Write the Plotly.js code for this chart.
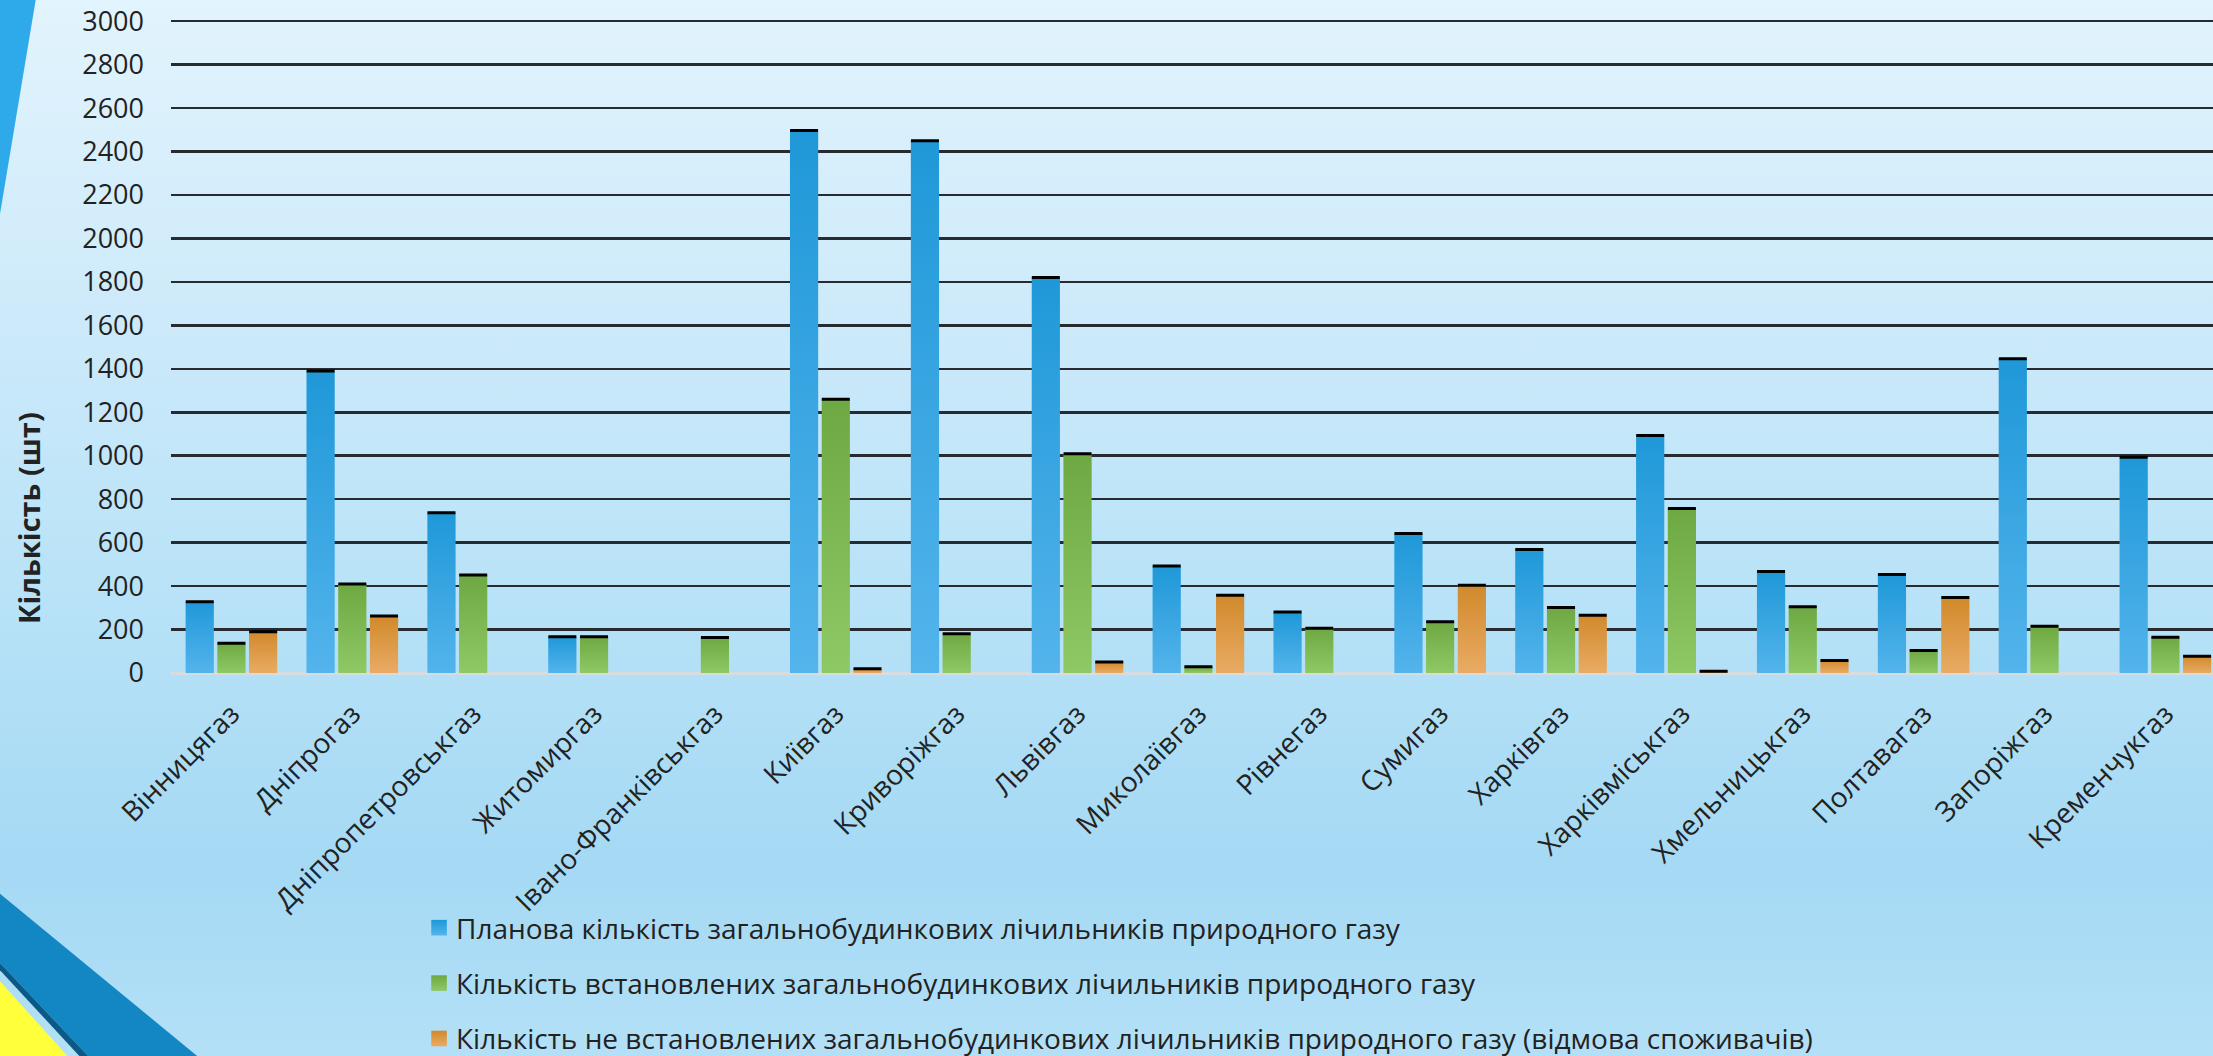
<!DOCTYPE html>
<html>
<head>
<meta charset="utf-8">
<script src="https://cdn.plot.ly/plotly-3.0.1.min.js"></script>
<style>
  html, body { margin: 0; padding: 0; width: 2213px; height: 1056px; overflow: hidden; }
  body { background: linear-gradient(to bottom, #e2f4fd 0%, #cdeafa 30%, #b7e2f7 58%, #a5d9f4 82%, #b3e0f7 100%); }
  #chart { width: 2213px; height: 1056px; }
</style>
</head>
<body>
<div id="chart"></div>
<script>
// ---- data ----
const categories = ['Вінницягаз','Дніпрогаз','Дніпропетровськгаз','Житомиргаз','Івано-Франківськгаз','Київгаз','Криворіжгаз','Львівгаз','Миколаївгаз','Рівнегаз','Сумигаз','Харківгаз','Харківміськгаз','Хмельницькгаз','Полтавагаз','Запоріжгаз','Кременчукгаз'];
const planned   = [328, 1390, 737, 167, null, 2497, 2450, 1820, 493, 281, 642, 568, 1093, 467, 453, 1446, 993];
const installed = [137, 410, 451, 167, 163, 1260, 181, 1009, 29, 206, 236, 302, 757, 305, 104, 215, 164];
const notInstalled = [190, 262, null, null, null, 19, null, 51, 358, null, 404, 266, 8, 58, 347, null, 77];
const seriesNames = [
  'Планова кількість загальнобудинкових лічильників природного газу',
  'Кількість встановлених загальнобудинкових лічильників природного газу',
  'Кількість не встановлених загальнобудинкових лічильників природного газу (відмова споживачів)'
];
const yTicks = [0,200,400,600,800,1000,1200,1400,1600,1800,2000,2200,2400,2600,2800,3000];
const yTitle = 'Кількість (шт)';

// ---- layout geometry (pixels) ----
const W = 2213, H = 1056;
const L = 171, T = 19, B = 383;
const plotW = W - L, plotH = H - T - B;
const fx = px => (px - L) / plotW;
const fy = py => (H - B - py) / plotH;
const poly = pts => 'M' + pts.map(p => fx(p[0]) + ',' + fy(p[1])).join(' L') + ' Z';

const colors = ['#38a6e2', '#7cb955', '#dd9943'];
const gradStops = [['#1f98d8', '#54b4ec'], ['#6ea842', '#8ec966'], ['#d1892b', '#e9ab64']];
const series = [planned, installed, notInstalled];

const traces = series.map((vals, i) => ({
  type: 'bar',
  name: seriesNames[i],
  x: categories,
  y: vals,
  legendgroup: 'g' + i,
  marker: { color: colors[i], line: { width: 0 } },
  error_y: { type: 'data', array: vals.map(v => v === null ? null : 0), symmetric: true,
             visible: true, color: '#000000', thickness: 3, width: 14 },
  hoverinfo: 'x+y'
}));

const layout = {
  width: W, height: H,
  margin: { l: L, r: 0, t: T, b: B, pad: 0, autoexpand: false },
  paper_bgcolor: 'rgba(0,0,0,0)',
  plot_bgcolor: 'rgba(0,0,0,0)',
  barmode: 'group',
  bargap: 0.213,
  bargroupgap: 0.11,
  font: { family: 'Open Sans, sans-serif', color: '#222222' },
  showlegend: true,
  legend: {
    xref: 'container', yref: 'container',
    x: 0.188, y: 0.1449, xanchor: 'left', yanchor: 'top',
    bgcolor: 'rgba(0,0,0,0)',
    font: { size: 28, family: 'Open Sans, sans-serif', color: '#222222' },
    traceorder: 'grouped', tracegroupgap: 16, itemwidth: 30
  },
  xaxis: {
    type: 'category',
    range: [-0.5, 16.394],
    tickangle: -45,
    automargin: false,
    tickfont: { size: 28, family: 'Open Sans, sans-serif', color: '#222222' },
    showgrid: false, zeroline: false, showline: false, ticks: '',
    ticklabelstandoff: 18,
    fixedrange: true
  },
  yaxis: {
    range: [0, 3010],
    automargin: false,
    tickvals: yTicks,
    ticktext: yTicks.map(String),
    tickfont: { size: 27, family: 'Open Sans, sans-serif', color: '#222222' },
    showgrid: true, gridcolor: '#272b2f', gridwidth: 2.5,
    zeroline: true, zerolinecolor: '#d6dde1', zerolinewidth: 3,
    showline: false, ticks: '', ticklabelstandoff: 26,
    fixedrange: true
  },
  annotations: [{
    xref: 'paper', yref: 'paper', x: fx(28), y: fy(518),
    text: '<b>' + yTitle + '</b>', textangle: -90, showarrow: false,
    font: { size: 29, family: 'Open Sans, sans-serif', color: '#222222' },
    xanchor: 'center', yanchor: 'middle'
  }],
  shapes: [
    { type: 'path', xref: 'paper', yref: 'paper', layer: 'below', line: { width: 0 },
      fillcolor: '#2eaaea', path: poly([[-2,-2],[36,-2],[-2,226]]) },
    { type: 'path', xref: 'paper', yref: 'paper', layer: 'below', line: { width: 0 },
      fillcolor: '#1386c4', path: poly([[-2,892],[202,1060],[92,1060],[-2,961]]) },
    { type: 'path', xref: 'paper', yref: 'paper', layer: 'below', line: { width: 0 },
      fillcolor: '#0b5a86', path: poly([[-2,961],[92,1060],[83,1060],[-2,968]]) },
    { type: 'path', xref: 'paper', yref: 'paper', layer: 'below', line: { width: 0 },
      fillcolor: '#ffff3c', path: poly([[-2,979],[71,1060],[-2,1060]]) }
  ]
};

Plotly.newPlot('chart', traces, layout, { displayModeBar: false, staticPlot: true }).then(gd => {
  // vertical gradient fill for bars and legend swatches
  const svg = gd.querySelector('svg.main-svg');
  const NS = 'http://www.w3.org/2000/svg';
  let defs = svg.querySelector('defs');
  if (!defs) { defs = document.createElementNS(NS, 'defs'); svg.insertBefore(defs, svg.firstChild); }
  gradStops.forEach((st, i) => {
    const g = document.createElementNS(NS, 'linearGradient');
    g.setAttribute('id', 'barGrad' + i);
    g.setAttribute('x1', '0'); g.setAttribute('y1', '0');
    g.setAttribute('x2', '0'); g.setAttribute('y2', '1');
    [[0, st[0]], [1, st[1]]].forEach(([o, c]) => {
      const s = document.createElementNS(NS, 'stop');
      s.setAttribute('offset', o); s.setAttribute('stop-color', c);
      g.appendChild(s);
    });
    defs.appendChild(g);
  });
  gd.querySelectorAll('.barlayer .trace').forEach((tr, i) => {
    tr.querySelectorAll('.point path').forEach(p => { p.style.fill = 'url(#barGrad' + i + ')'; });
  });
  gd.querySelectorAll('.legend .traces').forEach((tr, i) => {
    tr.querySelectorAll('.legendpoints path').forEach(p => {
      p.style.fill = 'url(#barGrad' + i + ')';
      const orig = p.getAttribute('transform') || '';
      p.setAttribute('transform', orig + ' translate(3,0) scale(1.3)');
    });
  });
});
</script>
</body>
</html>
